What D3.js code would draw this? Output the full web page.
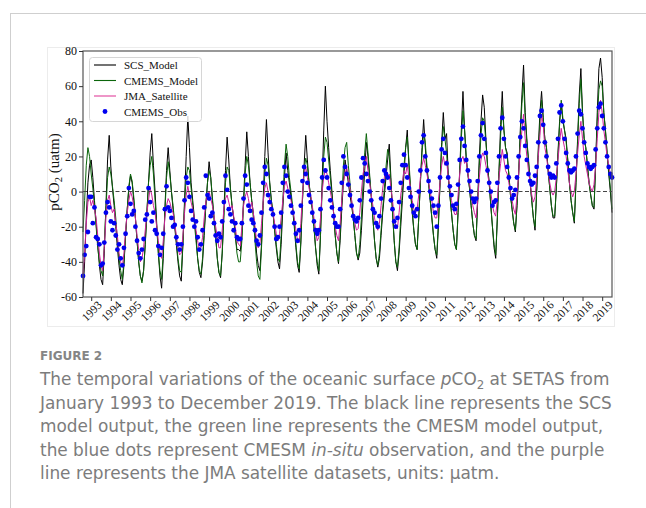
<!DOCTYPE html>
<html>
<head>
<meta charset="utf-8">
<script src="https://cdn.jsdelivr.net/npm/d3@7"></script>
<style>
    html, body { margin: 0; padding: 0; background: #fff; }
    svg { display: block; }
</style>
</head>
<body>
<svg id="chart" width="646" height="508"></svg>
<script>
'use strict';

// monthly values, Jan 1993 .. Dec 2019, one row per year
var yearLabels = [ '1993','1994','1995','1996','1997','1998','1999','2000','2001','2002','2003','2004','2005',
    '2006','2007','2008','2009','2010','2011','2012','2013','2014','2015','2016','2017','2018','2019' ];

var scsModel = [
    -58, -40, -15,   5,  15,  18,   8,  -5, -18, -30, -42, -50,
    -53, -35,  -8,  18,  32,  14,   2,  -8, -20, -32, -42, -50,
    -53, -42, -25, -10,   2,   9,   5,  -5, -15, -28, -40, -48,
    -51, -45, -30, -12,   5,  22,  33,  15,   0, -18, -35, -48,
    -55, -38, -10,  12,  25,  12,   0, -10, -20, -30, -40, -48,
    -51, -30,  -5,  20,  43,  25,   5,  -5, -15, -25, -38, -46,
    -49, -40, -25,  -8,   5,  17,   8,  -5, -15, -25, -38, -46,
    -49, -35, -12,  12,  31,  18,   2,  -8, -15, -25, -33, -33,
    -34, -25,  -5,  15,  34,  20,   5,  -5, -12, -22, -35, -42,
    -45, -30,  -5,  20,  41,  22,   5,  -5, -12, -22, -32, -40,
    -44, -30, -10,   8,  22,  12,   5,  -3, -10, -20, -32, -42,
    -46, -30,  -5,  15,  32,  18,   5,  -3, -10, -20, -32, -42,
    -47, -25,   5,  35,  60,  40,  25,  12,   0, -12, -25, -35,
    -41, -28, -10,   5,  18,  12,   5,  -2,  -8, -15, -25, -35,
    -39, -35, -22,  -5,  12,  28,  20,   8,  -3, -15, -28, -38,
    -43, -38, -25, -12,  -2,   8,  18,  27,   8, -12, -28, -40,
    -45, -35, -20,  -5,  10,  25,  35,  15,   0, -12, -22, -30,
    -33, -15,   5,  25,  41,  25,  12,   5,  -5, -15, -25, -33,
    -38, -20,   5,  28,  45,  30,  33,  10,  -2, -12, -22, -30,
    -33, -12,  12,  35,  57,  35,  18,  10,   2,  -8, -18, -25,
    -28,  -5,  20,  40,  55,  48,  30,  15,   5,  -8, -20, -32,
    -38, -15,  12,  38,  57,  35,  25,  22,  10,  -2, -10, -18,
    -23,  -8,  10,  35,  55,  72,  45,  30,  18,   5,  -5, -15,
    -22,   0,  25,  45,  57,  42,  30,  25,  12,   2,  -8, -15,
    -15,   2,  22,  40,  50,  40,  35,  30,  18,   5,  -5, -12,
    -18,   5,  30,  55,  70,  45,  30,  25,  15,   5,  -2,  -8,
    -10,  15,  45,  70,  76,  65,  45,  35,  22,  10,   0, -12
];

var cmemsModel = [
    -23,  -5,  15,  25,  20,  10,   2,  -8, -20, -32, -40, -45,
    -48, -30, -10,   8,  14,  10,   3,  -5, -15, -28, -38, -45,
    -50, -40, -25, -10,   3,  10,   6,  -3, -15, -28, -40, -48,
    -52, -45, -30, -12,   5,  15,  20,  10,  -5, -20, -35, -45,
    -50, -35, -12,   8,  17,  10,   0,  -8, -18, -28, -38, -45,
    -46, -30,  -8,   8,  14,  12,   2,  -8, -18, -28, -38, -45,
    -47, -38, -22,  -8,   5,  12,   8,  -3, -15, -25, -38, -46,
    -48, -35, -15,   5,  14,  12,   2,  -8, -15, -25, -35, -40,
    -40, -28,  -8,  10,  20,  15,   5,  -5, -15, -28, -40, -48,
    -50, -32,  -8,  10,  19,  15,   5,  -5, -12, -22, -30, -38,
    -40, -25,  -5,  15,  27,  20,   8,   0,  -8, -18, -30, -40,
    -44, -28,  -5,  12,  19,  15,   5,  -3, -10, -20, -32, -40,
    -45, -25,   0,  20,  31,  28,  18,   8,  -2, -12, -25, -35,
    -40, -25,  -5,  15,  25,  28,  15,   5,  -5, -15, -25, -35,
    -38, -30, -15,   5,  22,  33,  22,  10,  -2, -15, -28, -38,
    -42, -35, -22, -10,   2,  14,  24,  20,   5, -12, -28, -40,
    -43, -32, -15,   0,  15,  25,  31,  18,   2, -10, -22, -30,
    -33, -15,   5,  22,  33,  28,  15,   5,  -5, -15, -25, -33,
    -36, -18,   5,  25,  37,  30,  22,   8,  -2, -12, -22, -30,
    -33, -12,  10,  30,  46,  35,  20,  10,   2,  -8, -18, -25,
    -27,  -5,  15,  32,  42,  40,  28,  15,   5,  -8, -20, -30,
    -36, -15,  10,  32,  48,  35,  25,  20,  10,  -2, -10, -18,
    -22,  -8,  10,  32,  50,  62,  42,  28,  18,   5,  -5, -15,
    -20,   0,  22,  40,  52,  42,  30,  25,  12,   2,  -8, -14,
    -14,   2,  20,  38,  52,  42,  35,  28,  18,   5,  -5, -12,
    -17,   5,  28,  50,  64,  45,  30,  25,  15,   5,  -2,  -8,
     -9,  15,  40,  58,  63,  60,  45,  35,  22,  12,   2, -10
];

var jmaSatellite = [
    -47, -35, -18,  -6,  -3,  -8,  -5, -10, -15, -25, -35, -42,
    -45, -32, -15,  -5,  -2,  -8, -12, -10, -18, -25, -35, -40,
    -43, -35, -22, -12,  -5,   0,  -3,  -8, -15, -25, -33, -40,
    -38, -32, -22, -12,  -5,   2,  -2,  -8, -12, -20, -28, -35,
    -38, -28, -15,  -8,  -4,  -6, -10, -12, -18, -25, -32, -36,
    -35, -25, -12,  -2,   3,  -2,  -6, -10, -15, -22, -28, -33,
    -32, -26, -15,  -6,  -2,   0,  -4,  -8, -14, -20, -26, -32,
    -32, -22, -10,  -4,  -2,  -6, -10,  -8, -14, -20, -28, -30,
    -31, -20,  -8,  -3,   0,  -4, -10,  -6, -12, -20, -28, -32,
    -30, -18,  -6,   2,   5,   0,  -5,  -8, -12, -18, -24, -28,
    -24, -15,  -5,   3,   6,   2,  -2,  -5, -10, -15, -22, -28,
    -29, -18,  -2,  10,  14,   8,   2,  -2,  -8, -15, -22, -28,
    -26, -15,   0,   8,  13,  10,   5,   0,  -5, -12, -20, -25,
    -28, -18,  -5,   5,  10,  14,   8,   2,  -5, -12, -18, -22,
    -21, -12,   0,  10,  15,  20,  12,   5,  -2,  -8, -15, -20,
    -22, -18,  -8,   2,   8,  12,   8,  10,   2,  -5, -15, -20,
    -21, -12,  -2,   5,  12,  10,  15,   8,   2,  -5, -10, -12,
    -10,  -2,   8,  15,  19,  15,  10,   5,   0,  -5, -12, -15,
    -15,  -5,   5,  15,  20,  15,  18,   8,   2,  -5, -10, -13,
    -13,  -2,  10,  18,  20,  16,  18,  10,   5,  -2,  -8, -12,
    -15,  -5,   8,  18,  22,  20,  15,  10,   5,   0,  -8, -12,
    -14,  -4,   8,  16,  24,  18,  12,  10,   5,   0,  -5, -10,
    -13,  -2,  10,  25,  35,  44,  30,  20,  12,   5,  -2,  -6,
     -3,   8,  20,  32,  44,  38,  25,  20,  12,   5,   0,  -2,
      0,   8,  18,  28,  36,  30,  25,  20,  12,   5,   0,  -3,
      0,  10,  22,  32,  40,  30,  20,  15,  10,   5,   2,   0,
      4,  15,  30,  45,  52,  45,  35,  28,  20,  15,  10,   8
];

var cmemsObs = [
    -48, -36, -31, -23,  -3,  -3, -18,  -9, -26, -27, -30, -42,
    -41, -29, -12,  -6,  -9, -17, -22, -18, -25, -33, -30, -38,
    -42, -32, -24, -14,   2,  -7, -13, -11, -20, -28, -35, -38,
    -33, -27, -16, -13,   2,  -6, -17, -12, -22, -24, -31, -36,
    -32, -24, -10,   3,  -9, -11, -15, -20, -19, -26, -30, -33,
    -30, -20,  -5,   8,   5,  -3, -11, -16, -20, -17, -26, -33,
    -30, -22,  -9,   9,  -2,  -4, -14, -12, -18, -25, -28, -24,
    -26, -17,  -6,   9,   1, -10, -13, -17, -22, -18, -26, -27,
    -27, -18,  -4,   9,   4,  -8, -11, -16, -18, -22, -28, -30,
    -25, -12,   5,  14,  10,  -2,  -6, -10, -13, -20, -27, -26,
    -20, -12,   5,  14,   9,   0,  -3,  -8, -12, -18, -24, -28,
    -22,  -8,   6,  14,  10,   5,  -2,  -6, -12, -17, -22, -24,
    -22, -10,   8,  18,  12,   8,   2,  -5,  -9, -14, -18, -20,
    -20, -10,   5,  20,  14,  10,   4,  -2,  -8, -14, -16, -17,
    -15,  -5,   8,  19,  16,  10,   6,   0,  -5, -10, -12, -18,
    -20, -14,  -4,   6,  12,  10,   8,   2,  -5, -10, -17, -20,
    -15,  -6,   5,  15,  21,  15,   8,   2,  -3,  -8, -12, -14,
    -10,   0,  12,  28,  32,  20,  12,   6,   0,  -4,  -8, -12,
    -20,  -8,   8,  24,  30,  22,  16,   8,   3,  -2,  -8, -10,
     -7,   4,  18,  30,  37,  26,  18,  12,   6,   0,  -4,  -6,
     -4,   6,  20,  32,  39,  30,  22,  12,   5,   0,  -8,  -6,
     -5,   5,  20,  36,  42,  30,  20,  14,   8,   2,  -4,  -2,
      1,   8,  20,  31,  40,  36,  26,  18,  10,   6,   4,   5,
      9,  14,  28,  43,  46,  38,  28,  20,  14,  10,   8,   9,
      8,  16,  30,  45,  49,  40,  30,  22,  16,  12,  11,  12,
     13,  20,  33,  46,  44,  36,  28,  22,  16,  14,  13,  14,
     15,  24,  36,  48,  50,  43,  36,  28,  20,  14,  10,   8
];

var yTicks = [ -60, -40, -20, 0, 20, 40, 60, 80 ];

var captionLines = [
    [ { t: 'The temporal variations of the oceanic surface ' }, { t: 'p', i: true }, { t: 'CO' }, { t: '2', sub: true }, { t: ' at SETAS from' } ],
    [ { t: 'January 1993 to December 2019. The black line represents the SCS' } ],
    [ { t: 'model output, the green line represents the CMESM model output,' } ],
    [ { t: 'the blue dots represent CMESM ' }, { t: 'in-situ', i: true }, { t: ' observation, and the purple' } ],
    [ { t: 'line represents the JMA satellite datasets, units: \u00b5atm.' } ]
];

(function(){
    var svg = d3.select( '#chart' ),
        serif = '"Liberation Serif", "Times New Roman", serif',
        sans = '"DejaVu Sans", "Noto Sans", sans-serif',
        box = { left: 83, right: 612, top: 51, bottom: 297 },
        x = d3.scaleLinear()
            .domain( [0, scsModel.length - 1] )
            .range( [box.left, box.right] ),
        y = d3.scaleLinear()
            .domain( [-60, 80] )
            .range( [box.bottom, box.top] ),
        line = d3.line()
            .x( function( d, i ){ return x(i); } )
            .y( function( d ){ return y(d); } ),
        $plot,
        $xAxis,
        $yAxis,
        $legend,
        $cap,
        fs,
        sub,
        legendRows;

    // page frame
    svg.append( 'line' )
        .attr( 'x1', 10 ).attr( 'y1', 13.5 ).attr( 'x2', 646 ).attr( 'y2', 13.5 )
        .attr( 'stroke', '#cfcfcf' );
    svg.append( 'line' )
        .attr( 'x1', 10.5 ).attr( 'y1', 13 ).attr( 'x2', 10.5 ).attr( 'y2', 508 )
        .attr( 'stroke', '#cfcfcf' );

    // figure image border
    svg.append( 'rect' )
        .attr( 'x', 47.5 ).attr( 'y', 47.5 )
        .attr( 'width', 567 ).attr( 'height', 279 )
        .attr( 'fill', '#fff' )
        .attr( 'stroke', '#ececec' );

    $plot = svg.append( 'g' );

    $plot.append( 'path' )
        .datum( scsModel )
        .attr( 'd', line )
        .attr( 'fill', 'none' )
        .attr( 'stroke', '#000' )
        .attr( 'stroke-width', 1 );

    $plot.append( 'path' )
        .datum( cmemsModel )
        .attr( 'd', line )
        .attr( 'fill', 'none' )
        .attr( 'stroke', '#0b650b' )
        .attr( 'stroke-width', 1 );

    $plot.append( 'path' )
        .datum( jmaSatellite )
        .attr( 'd', line )
        .attr( 'fill', 'none' )
        .attr( 'stroke', '#cc1f9a' )
        .attr( 'stroke-width', 1 );

    $plot.append( 'line' )
        .attr( 'x1', box.left ).attr( 'x2', box.right )
        .attr( 'y1', y(0) ).attr( 'y2', y(0) )
        .attr( 'stroke', '#444' )
        .attr( 'stroke-width', 1.1 )
        .attr( 'stroke-dasharray', '4,2.5' );

    $plot.selectAll( 'circle' )
        .data( cmemsObs )
        .enter().append( 'circle' )
        .attr( 'cx', function( d, i ){ return x(i); } )
        .attr( 'cy', function( d ){ return y(d); } )
        .attr( 'r', 2.4 )
        .attr( 'fill', '#0000f0' );

    // spines
    svg.append( 'rect' )
        .attr( 'x', box.left ).attr( 'y', box.top )
        .attr( 'width', box.right - box.left ).attr( 'height', box.bottom - box.top )
        .attr( 'fill', 'none' )
        .attr( 'stroke', '#555' )
        .attr( 'stroke-width', 1.2 );

    $yAxis = svg.append( 'g' )
        .attr( 'transform', 'translate(' + box.left + ',0)' )
        .call( d3.axisLeft( y ).tickValues( yTicks ).tickSize( 4 ).tickPadding( 2 )
            .tickFormat( function( d ){ return String( d ); } ) );

    $xAxis = svg.append( 'g' )
        .attr( 'transform', 'translate(0,' + box.bottom + ')' )
        .call( d3.axisBottom( x )
            .tickValues( yearLabels.map( function( d, i ){ return 5 + 12 * i; } ) )
            .tickFormat( function( d, i ){ return yearLabels[i]; } )
            .tickSize( 4 ) );

    [ $xAxis, $yAxis ].forEach( function( $a ){
        $a.select( '.domain' ).remove();
        $a.selectAll( '.tick line' ).attr( 'stroke', '#333' );
        $a.selectAll( '.tick text' )
            .attr( 'fill', '#111' )
            .style( 'font-family', serif )
            .style( 'font-size', '12px' );
    });

    $xAxis.selectAll( '.tick text' )
        .attr( 'y', 0 )
        .attr( 'dy', null )
        .attr( 'dominant-baseline', 'central' )
        .attr( 'transform', 'translate(0,14) rotate(-45)' )
        .style( 'font-size', '11.5px' )
        .style( 'text-anchor', 'middle' );

    // y label
    svg.append( 'text' )
        .attr( 'transform', 'translate(59,172) rotate(-90)' )
        .attr( 'text-anchor', 'middle' )
        .style( 'font-family', serif )
        .style( 'font-size', '15px' )
        .attr( 'fill', '#111' )
        .call( function( $t ){
            $t.append( 'tspan' ).text( 'pCO' );
            $t.append( 'tspan' ).attr( 'dy', 3 ).style( 'font-size', '10.5px' ).text( '2' );
            $t.append( 'tspan' ).attr( 'dy', -3 ).text( ' (uatm)' );
        });

    // legend
    legendRows = [
        { name: 'SCS_Model', color: '#000', kind: 'line' },
        { name: 'CMEMS_Model', color: '#0b650b', kind: 'line' },
        { name: 'JMA_Satellite', color: '#e0409c', kind: 'line' },
        { name: 'CMEMS_Obs', color: '#0000f0', kind: 'dot' }
    ];

    $legend = svg.append( 'g' );
    $legend.append( 'rect' )
        .attr( 'x', 89.5 ).attr( 'y', 57.5 )
        .attr( 'width', 112 ).attr( 'height', 64 )
        .attr( 'rx', 3 )
        .attr( 'fill', 'rgba(255,255,255,0.85)' )
        .attr( 'stroke', '#d6d6d6' );

    legendRows.forEach( function( r, i ){
        var yy = 65 + i * 15.5;
        if ( r.kind === 'line' ){
            $legend.append( 'line' )
                .attr( 'x1', 94 ).attr( 'x2', 116 )
                .attr( 'y1', yy ).attr( 'y2', yy )
                .attr( 'stroke', r.color )
                .attr( 'stroke-width', 1.1 );
        }else{
            $legend.append( 'circle' )
                .attr( 'cx', 105 ).attr( 'cy', yy )
                .attr( 'r', 2.4 )
                .attr( 'fill', r.color );
        }
        $legend.append( 'text' )
            .attr( 'x', 124 ).attr( 'y', yy )
            .attr( 'dominant-baseline', 'central' )
            .style( 'font-family', serif )
            .style( 'font-size', '11px' )
            .attr( 'fill', '#111' )
            .text( r.name );
    });

    // caption
    svg.append( 'text' )
        .attr( 'x', 40 ).attr( 'y', 360 )
        .style( 'font-family', sans )
        .style( 'font-size', '12px' )
        .style( 'font-weight', 'bold' )
        .attr( 'fill', '#858585' )
        .text( 'FIGURE 2' );

    $cap = svg.append( 'g' )
        .style( 'font-family', sans )
        .attr( 'fill', '#7c7c7c' );

    captionLines.forEach( function( segs, li ){
        var $t = $cap.append( 'text' )
            .attr( 'x', 40 )
            .attr( 'y', 385 + li * 23.6 );
        segs.forEach( function( s ){
            var $s = $t.append( 'tspan' ).text( s.t );
            if ( s.i ){ $s.style( 'font-style', 'italic' ); }
            if ( s.sub ){ $s.classed( 'sub', true ); }
        });
    });

    $cap.style( 'font-size', '15px' );
    fs = 15 * 573 / $cap.select( 'text' ).node().getComputedTextLength();
    $cap.style( 'font-size', fs + 'px' );

    // subscript: shift down, then back up on the following piece
    sub = $cap.selectAll( 'tspan.sub' )
        .style( 'font-size', ( fs * 0.7 ) + 'px' )
        .attr( 'dy', fs * 0.22 );
    sub.each( function(){
        if ( this.nextSibling ){
            d3.select( this.nextSibling ).attr( 'dy', -fs * 0.22 );
        }
    });
})();
</script>
</body>
</html>
